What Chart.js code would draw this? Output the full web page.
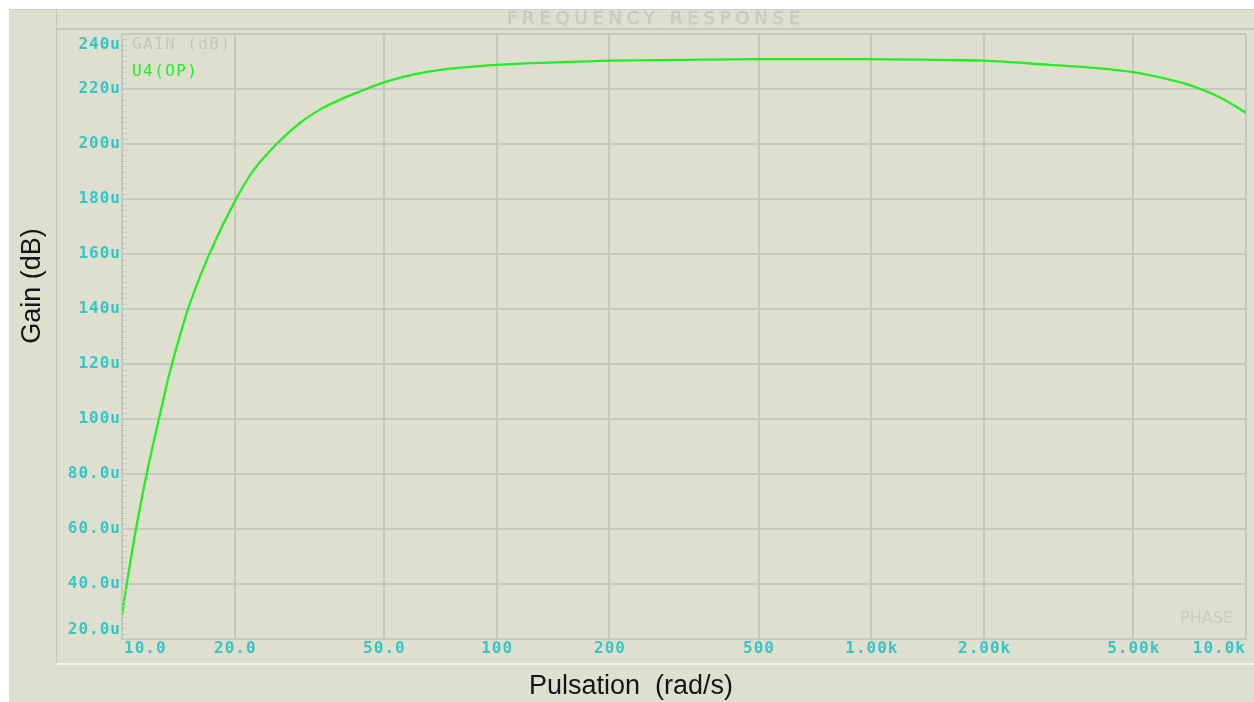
<!DOCTYPE html>
<html>
<head>
<meta charset="utf-8">
<script src="https://cdn.jsdelivr.net/npm/chart.js@4.4.1/dist/chart.umd.min.js"></script>
<style>
  html, body { margin: 0; padding: 0; background: #ffffff; overflow: hidden; }
  canvas { display: block; }
</style>
</head>
<body>
<canvas id="c" width="1254" height="702"></canvas>
<script>
// Pulsation (rad/s) of each sample and the gain of U4(OP) there, in micro-units
const pulsation = [10, 10.36, 10.9, 11.64, 12.55, 13.26, 14.22, 15.09, 17.16, 20.23, 22.5, 25.85, 30, 33.73, 38, 43.12, 50, 60, 70, 100, 150, 200, 300, 500, 929, 1500, 2000, 2983, 4000, 5000, 6000, 7047, 8472, 10000];
const gainMicro = [28.8, 42.3, 60.1, 80.1, 100.1, 114.3, 129.5, 141, 160.4, 180.4, 190.7, 200, 207.9, 212.5, 216.0, 219.1, 222.4, 225.3, 226.9, 228.8, 229.8, 230.3, 230.6, 230.9, 230.9, 230.6, 230.3, 228.8, 227.6, 226.1, 224, 221.5, 217.1, 211.4];

// Axis ticks
const xTickValues = [10, 20, 50, 100, 200, 500, 1000, 2000, 5000, 10000];
const xTickLabels = ['10.0', '20.0', '50.0', '100', '200', '500', '1.00k', '2.00k', '5.00k', '10.0k'];
const yTickValues = [20, 40, 60, 80, 100, 120, 140, 160, 180, 200, 220, 240];
const yTickLabels = ['20.0u', '40.0u', '60.0u', '80.0u', '100u', '120u', '140u', '160u', '180u', '200u', '220u', '240u'];

const BG = '#dfdfd0';
const GRID = '#c7c7bf';
const TICK_TEXT = '#33c6c6';
const FAINT_TEXT = '#c6c6bd';
const TRACE = '#22ee22';

// Draws text starting at x (left edge) with a given letter spacing
function spacedText(ctx, text, x, y, spacing) {
  ctx.letterSpacing = spacing + 'px';
  ctx.textAlign = 'left';
  ctx.fillText(text, x, y);
  ctx.letterSpacing = '0px';
}
function spacedWidth(ctx, text, spacing) {
  ctx.letterSpacing = '0px';
  const w = ctx.measureText(text).width;
  return w + spacing * ([...text].length - 1);
}
// Letter spacing that makes text span a given width
function spacingFor(ctx, text, width) {
  ctx.letterSpacing = '0px';
  const w = ctx.measureText(text).width;
  const n = [...text].length;
  return n > 1 ? (width - w) / (n - 1) : 0;
}

const framePlugin = {
  id: 'analysisFrame',
  beforeDraw(chart) {
    const ctx = chart.ctx;
    const W = chart.width, H = chart.height;
    ctx.save();
    ctx.fillStyle = '#ffffff';
    ctx.fillRect(0, 0, W, H);
    ctx.fillStyle = BG;
    ctx.fillRect(9, 9, W - 9, H - 9);

    // outer frame lines
    ctx.strokeStyle = '#cfcfc4';
    ctx.lineWidth = 1;
    ctx.beginPath();
    ctx.moveTo(9, 9.5); ctx.lineTo(W, 9.5);
    ctx.stroke();

    ctx.strokeStyle = GRID;
    ctx.lineWidth = 1.2;
    ctx.beginPath();
    ctx.moveTo(56.5, 9); ctx.lineTo(56.5, 664);
    ctx.stroke();

    ctx.lineWidth = 2;
    ctx.beginPath();
    ctx.moveTo(56, 29); ctx.lineTo(W, 29);
    ctx.stroke();

    ctx.strokeStyle = '#f3f3ec';
    ctx.lineWidth = 2;
    ctx.beginPath();
    ctx.moveTo(56, 664); ctx.lineTo(W, 664);
    ctx.stroke();

    // title band
    ctx.font = '18px "DejaVu Sans"';
    ctx.textBaseline = 'middle';
    const title = 'FREQUENCY RESPONSE';
    const sp = spacingFor(ctx, title, 293);
    ctx.fillStyle = '#cdcdc4';
    ctx.strokeStyle = '#c4c4bb';
    ctx.lineWidth = 0.5;
    ctx.letterSpacing = sp + 'px';
    ctx.fillText(title, 507, 19.5);
    ctx.strokeText(title, 507, 19.5);
    ctx.letterSpacing = '0px';
    ctx.restore();
  },
  afterDraw(chart) {
    const ctx = chart.ctx;
    const xs = chart.scales.x, ys = chart.scales.y;
    const area = chart.chartArea;
    ctx.save();

    // minor ticks along the left edge of the plot
    ctx.strokeStyle = GRID;
    ctx.lineWidth = 1;
    ctx.beginPath();
    for (let i = 0; i < yTickValues.length - 1; i++) {
      const a = yTickValues[i], b = yTickValues[i + 1];
      for (let k = 1; k < 10; k++) {
        const py = Math.round(ys.getPixelForValue(a + (b - a) * k / 10)) + 0.5;
        ctx.moveTo(area.left, py);
        ctx.lineTo(area.left + 5, py);
      }
    }
    ctx.stroke();

    // tick labels
    ctx.font = 'bold 16px "DejaVu Sans Mono"';
    ctx.fillStyle = TICK_TEXT;
    ctx.textBaseline = 'middle';
    const tsp = 1;
    yTickLabels.forEach((lab, i) => {
      let py = ys.getPixelForValue(yTickValues[i]);
      if (i === 0) py = area.bottom - 9;
      if (i === yTickLabels.length - 1) py = area.top + 10.5;
      const w = spacedWidth(ctx, lab, tsp);
      spacedText(ctx, lab, 120 - w, py, tsp);
    });
    xTickLabels.forEach((lab, i) => {
      const px = xs.getPixelForValue(xTickValues[i]);
      const w = spacedWidth(ctx, lab, tsp);
      let x0 = px - w / 2;
      if (i === 0) x0 = area.left + 2;
      if (i === xTickLabels.length - 1) x0 = area.right - 1 - w;
      spacedText(ctx, lab, x0, 648.5, tsp);
    });

    // trace legend inside the plot
    ctx.font = '16px "DejaVu Sans Mono"';
    ctx.fillStyle = FAINT_TEXT;
    spacedText(ctx, 'GAIN (dB)', 132, 44.5, spacingFor(ctx, 'GAIN (dB)', 98));
    ctx.fillStyle = TRACE;
    spacedText(ctx, 'U4(OP)', 132, 71.5, spacingFor(ctx, 'U4(OP)', 65));

    ctx.font = '16px "DejaVu Sans"';
    ctx.fillStyle = '#c9c9c0';
    spacedText(ctx, 'PHASE', 1180, 619, spacingFor(ctx, 'PHASE', 53));

    // axis titles
    ctx.fillStyle = '#151515';
    ctx.font = '27px "Liberation Sans"';
    ctx.textAlign = 'center';
    ctx.textBaseline = 'middle';
    ctx.fillText('Pulsation  (rad/s)', 631, 687);
    ctx.translate(33, 286);
    ctx.rotate(-Math.PI / 2);
    ctx.fillText('Gain (dB)', 0, 0);
    ctx.restore();
  }
};

const points = pulsation.map((w, i) => ({ x: w, y: gainMicro[i] }));

new Chart(document.getElementById('c').getContext('2d'), {
  type: 'line',
  data: {
    datasets: [{
      label: 'U4(OP)',
      data: points,
      borderColor: TRACE,
      borderWidth: 2.3,
      pointRadius: 0,
      cubicInterpolationMode: 'monotone',
      fill: false
    }]
  },
  options: {
    responsive: false,
    animation: false,
    devicePixelRatio: 1,
    layout: { padding: { left: 122, right: 8, top: 34, bottom: 63 } },
    plugins: { legend: { display: false }, tooltip: { enabled: false }, title: { display: false } },
    scales: {
      x: {
        type: 'logarithmic',
        min: 10, max: 10000,
        afterBuildTicks: s => { s.ticks = xTickValues.map(v => ({ value: v })); },
        ticks: { display: false },
        grid: { color: GRID, lineWidth: 2, drawTicks: false },
        border: { display: true, color: GRID, width: 2 }
      },
      y: {
        type: 'linear',
        min: 20, max: 240,
        afterBuildTicks: s => { s.ticks = yTickValues.map(v => ({ value: v })); },
        ticks: { display: false },
        grid: { color: GRID, lineWidth: 2, drawTicks: false },
        border: { display: true, color: GRID, width: 2 }
      }
    }
  },
  plugins: [framePlugin]
});
</script>
</body>
</html>
